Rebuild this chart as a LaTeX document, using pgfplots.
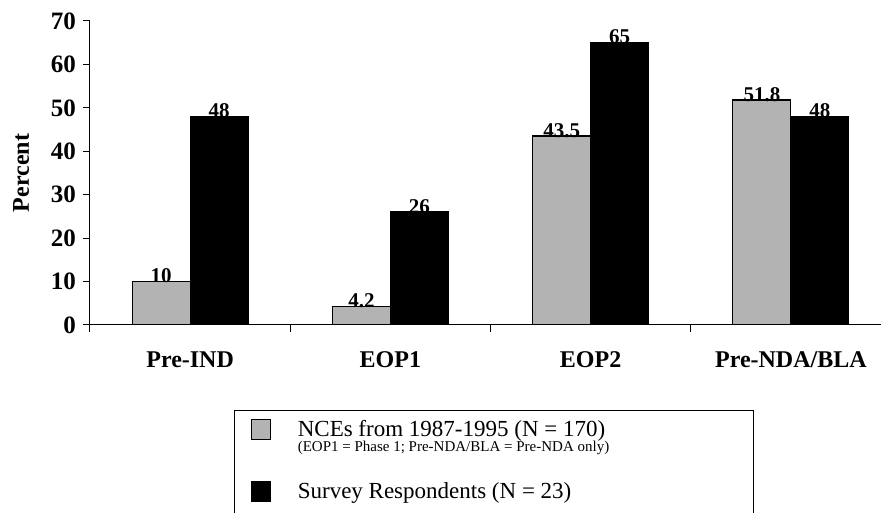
\documentclass[border=0pt]{standalone}
\usepackage{fontspec}
\setmainfont{Liberation Serif}
\usepackage{pgfplots}
\pgfplotsset{compat=1.18}
\definecolor{barg}{RGB}{179,179,179}
\pgfplotsset{sq/.style={legend image code/.code={\draw[##1,line width=1.2pt] (0pt,-3pt) rectangle (19pt,17pt);}}}
\begin{document}
\begin{tikzpicture}
\begin{axis}[
  at={(0pt,0pt)}, anchor=south west,
  scale only axis, width=791pt, height=304pt,
  xmin=-0.5, xmax=3.45, ymin=0, ymax=70,
  axis x line=bottom, axis y line=left,
  axis line style={-, line width=1pt},
  every tick/.style={black, line width=1pt},
  tick align=outside, major tick length=7pt,
  ytick={0,10,20,30,40,50,60,70},
  xtick={-0.5,0.5,1.5,2.5}, xticklabels={},
  extra x ticks={0,1,2,3},
  extra x tick labels={Pre-IND,EOP1,EOP2,Pre-NDA/BLA},
  extra x tick style={xtick style={draw=none}},
  /pgf/number format/assume math mode=true,
  yticklabel style={font=\fontsize{25}{30}\selectfont\bfseries, inner sep=0pt, xshift=-7pt},
  xticklabel style={font=\fontsize{24}{28}\selectfont\bfseries, inner sep=0pt, anchor=base, yshift=-36pt},
  ylabel={Percent},
  ylabel style={font=\fontsize{24}{28}\selectfont\bfseries, at={(axis description cs:-0.0872,0.5)}, anchor=center},
  ybar=0pt, bar width=58pt,
  nodes near coords,
  nodes near coords style={font=\fontsize{21}{24}\selectfont\bfseries, anchor=base, inner sep=0pt, yshift=-1pt},
  legend style={draw=black, line width=1.2pt, inner xsep=16pt, inner ysep=8pt,
    at={(axis description cs:0.18205,-0.2796)}, anchor=north west,
    font=\fontsize{23}{27}\selectfont, column sep=27pt, row sep=0pt,
    nodes={inner sep=0pt, text depth={}, text height={}},
    cells={anchor=base west}},
]
\addplot[fill=barg, draw=black, line width=1.2pt, bar shift=-29pt, forget plot]
  coordinates {(0,10) (1,4.2) (2,43.5) (3,51.8)};
\addplot[fill=black, draw=black, line width=1.2pt, bar shift=29pt, forget plot]
  coordinates {(0,48) (1,26) (2,65) (3,48)};
\addlegendimage{sq, fill=barg, draw=black}
\addlegendentry{\rule[-4pt]{0pt}{21pt}\smash{\makebox[440pt][l]{NCEs from 1987-1995 (N = 170)}}}
\addlegendimage{empty legend}
\addlegendentry{\rule[-3pt]{0pt}{14pt}\smash{\fontsize{15}{18}\selectfont (EOP1 = Phase 1; Pre-NDA/BLA = Pre-NDA only)}}
\addlegendimage{sq, fill=black, draw=black}
\addlegendentry{\rule[-15pt]{0pt}{59pt}\smash{Survey Respondents (N = 23)}}
\end{axis}
\pgfresetboundingbox
\path[use as bounding box] (-90pt,-188pt) rectangle (791pt,325pt);
\end{tikzpicture}
\end{document}
